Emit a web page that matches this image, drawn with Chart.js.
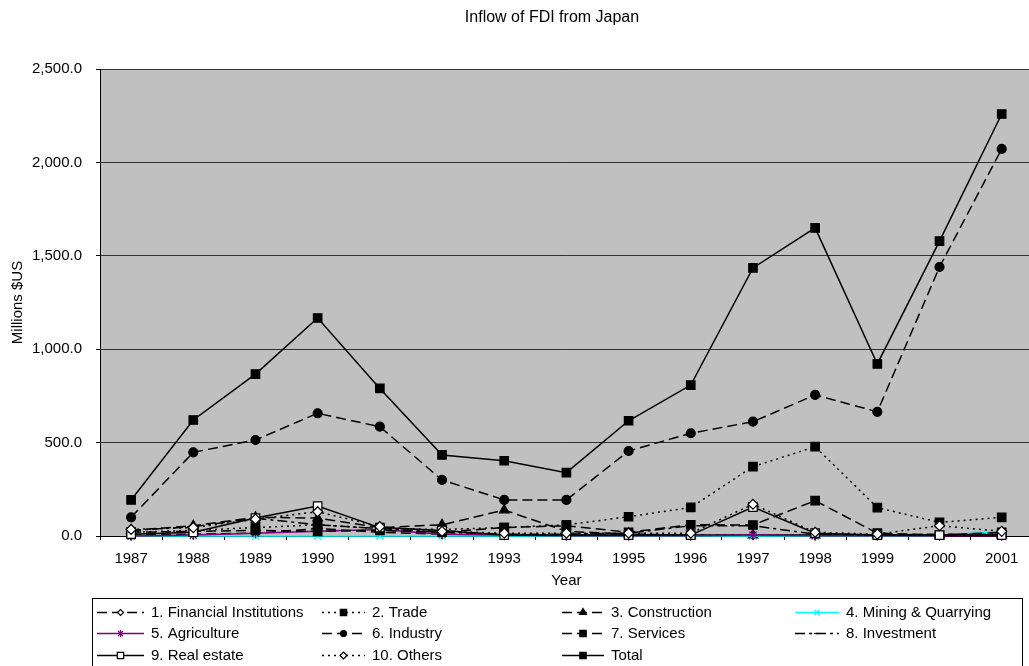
<!DOCTYPE html>
<html>
<head>
<meta charset="utf-8">
<title>Inflow of FDI from Japan</title>
<script src="https://cdn.jsdelivr.net/npm/chart.js@4/dist/chart.umd.min.js"></script>
<style>
  html, body { margin: 0; padding: 0; background: #fff; overflow: hidden; }
  canvas { display: block; }
</style>
</head>
<body>
<canvas id="fdi" width="1040" height="666"></canvas>
<script>
// Yearly inflow of FDI from Japan by sector, millions of US dollars
const years = ['1987','1988','1989','1990','1991','1992','1993','1994','1995','1996','1997','1998','1999','2000','2001'];

const financialInstitutions = [5, 10, 15, 40, 20, 10, 5, 5, 5, 5, 5, 5, 5, 5, 5];
const trade        = [20, 30, 45, 60, 40, 35, 45, 60, 103, 153, 371, 478, 152, 73, 100];
const construction = [30, 55, 100, 96, 45, 60, 139, 25, 10, 5, 5, 5, 5, 5, 5];
const mining       = [0, 0, 0, 0, 0, 0, 0, 0, 0, 0, 0, 0, 0, 2, 25];
const agriculture  = [0, 5, 15, 25, 35, 10, 5, 2, 2, 2, 5, 2, 2, 2, 2];
const industry     = [100, 448, 514, 657, 585, 300, 193, 193, 455, 550, 612, 755, 665, 1440, 2072];
const services     = [20, 25, 30, 25, 30, 20, 45, 55, 20, 60, 59, 189, 15, 5, 20];
const investment   = [30, 50, 95, 60, 40, 20, 10, 10, 15, 55, 55, 10, 5, 10, 10];
const realEstate   = [10, 20, 96, 160, 45, 30, 5, 5, 5, 5, 155, 15, 5, 5, 5];
const others       = [35, 45, 90, 130, 50, 25, 15, 15, 15, 15, 170, 20, 10, 55, 25];
const total        = [193, 621, 867, 1167, 790, 434, 403, 339, 617, 808, 1435, 1649, 921, 1579, 2259];

const yTicks = [0, 500, 1000, 1500, 2000, 2500];

const chartTitle = 'Inflow of FDI from Japan';
const FONT = "'Liberation Sans', Arial, sans-serif";

function series(label, data, color, dash, pointStyle, radius, fill) {
  return {
    label, data,
    borderColor: color,
    backgroundColor: color,
    borderWidth: 1.5,
    borderDash: dash,
    pointStyle,
    pointRadius: radius,
    pointHoverRadius: radius,
    pointBackgroundColor: fill,
    pointBorderColor: color,
    pointBorderWidth: 1.2,
    tension: 0,
    fill: false,
    clip: false
  };
}

const DASH = [10, 5];
const DOT = [2, 4];
const DASHDOT = [10, 4, 3, 4];

const datasets = [
  series('1. Financial Institutions', financialInstitutions, '#000', DASH, 'rectRot', 4.5, '#fff'),
  series('2. Trade', trade, '#000', DOT, 'rect', 6, '#000'),
  series('3. Construction', construction, '#000', DASH, 'triangle', 5.5, '#000'),
  series('4. Mining & Quarrying', mining, '#00ffff', [], 'crossRot', 5, '#00ffff'),
  series('5. Agriculture', agriculture, '#800080', [], 'star', 5, '#800080'),
  series('6. Industry', industry, '#000', DASH, 'circle', 4.5, '#000'),
  series('7. Services', services, '#000', DASH, 'rect', 6, '#000'),
  series('8. Investment', investment, '#000', DASHDOT, 'line', 4, '#000'),
  series('9. Real estate', realEstate, '#000', [], 'rect', 6, '#fff'),
  series('10. Others', others, '#000', DOT, 'rectRot', 5, '#fff'),
  series('Total', total, '#000', [], 'rect', 6, '#000')
];
// later series are drawn above earlier ones
datasets.forEach((d, i) => { d.order = datasets.length - i; });

// grey plot area and the chart heading
const plotBackground = {
  id: 'plotBackground',
  beforeDraw(chart) {
    const { ctx, chartArea: a } = chart;
    ctx.save();
    ctx.fillStyle = '#c0c0c0';
    ctx.fillRect(a.left, a.top, a.right - a.left, a.bottom - a.top);
    ctx.fillStyle = '#000';
    ctx.font = '16px ' + FONT;
    ctx.textAlign = 'center';
    ctx.textBaseline = 'middle';
    ctx.fillText(chartTitle, 552, 18);
    ctx.restore();
  }
};

// boxed legend in four columns, each entry showing the line style and marker
const boxedLegend = {
  id: 'boxedLegend',
  afterDraw(chart) {
    const ctx = chart.ctx;
    const cols = [[97, 151], [322, 372], [562, 611], [795, 846]];
    const rows = [612, 633, 655];
    ctx.save();
    ctx.strokeStyle = '#000';
    ctx.lineWidth = 1;
    ctx.setLineDash([]);
    ctx.strokeRect(92.5, 598.5, 930, 80);
    ctx.font = '15px ' + FONT;
    ctx.textBaseline = 'middle';
    ctx.textAlign = 'left';
    chart.data.datasets.forEach((ds, i) => {
      const [x0, tx] = cols[i % 4];
      const y = rows[Math.floor(i / 4)];
      const x1 = tx - 7;
      ctx.save();
      ctx.strokeStyle = ds.borderColor;
      ctx.lineWidth = ds.borderWidth;
      ctx.setLineDash(ds.borderDash);
      ctx.beginPath();
      ctx.moveTo(x0, y + 0.5);
      ctx.lineTo(x1, y + 0.5);
      ctx.stroke();
      ctx.setLineDash([]);
      ctx.fillStyle = ds.pointBackgroundColor;
      ctx.strokeStyle = ds.pointBorderColor;
      ctx.lineWidth = ds.pointBorderWidth;
      Chart.helpers.drawPoint(ctx, {
        pointStyle: ds.pointStyle,
        radius: Math.max(3, ds.pointRadius - 1.5),
        rotation: 0,
        borderWidth: ds.pointBorderWidth
      }, (x0 + x1) / 2, y + 0.5);
      ctx.restore();
      ctx.fillStyle = '#000';
      ctx.fillText(ds.label, tx, y + 1);
    });
    ctx.restore();
  }
};

new Chart(document.getElementById('fdi'), {
  type: 'line',
  data: { labels: years, datasets },
  options: {
    responsive: false,
    animation: false,
    events: [],
    layout: { padding: { left: 0, right: 2, top: 69, bottom: 68 } },
    plugins: {
      legend: { display: false },
      tooltip: { enabled: false },
      title: { display: false }
    },
    scales: {
      x: {
        type: 'category',
        offset: true,
        afterFit(scale) { scale.height = 62; },
        grid: {
          display: true,
          offset: true,
          drawOnChartArea: false,
          drawTicks: true,
          tickLength: 4,
          color: '#000'
        },
        border: { display: true, color: '#000', width: 1 },
        ticks: {
          color: '#000',
          padding: 10,
          maxRotation: 0,
          autoSkip: false,
          font: { family: FONT, size: 15 }
        },
        title: {
          display: true,
          text: 'Year',
          color: '#000',
          font: { family: FONT, size: 15 },
          padding: { top: 0, bottom: 8 }
        }
      },
      y: {
        min: 0,
        max: 2500,
        afterFit(scale) { scale.width = 100; },
        afterBuildTicks(scale) { scale.ticks = yTicks.map(v => ({ value: v })); },
        grid: {
          color: '#333',
          lineWidth: 1,
          drawTicks: true,
          tickLength: 4,
          tickColor: '#000'
        },
        border: { display: true, color: '#000', width: 1 },
        ticks: {
          color: '#000',
          padding: 14,
          font: { family: FONT, size: 15 },
          callback: v => Number(v).toLocaleString('en-US', { minimumFractionDigits: 1, maximumFractionDigits: 1 })
        },
        title: {
          display: true,
          text: 'Millions $US',
          color: '#000',
          font: { family: FONT, size: 15 },
          padding: { top: 9, bottom: 0 }
        }
      }
    }
  },
  plugins: [plotBackground, boxedLegend]
});
</script>
</body>
</html>
